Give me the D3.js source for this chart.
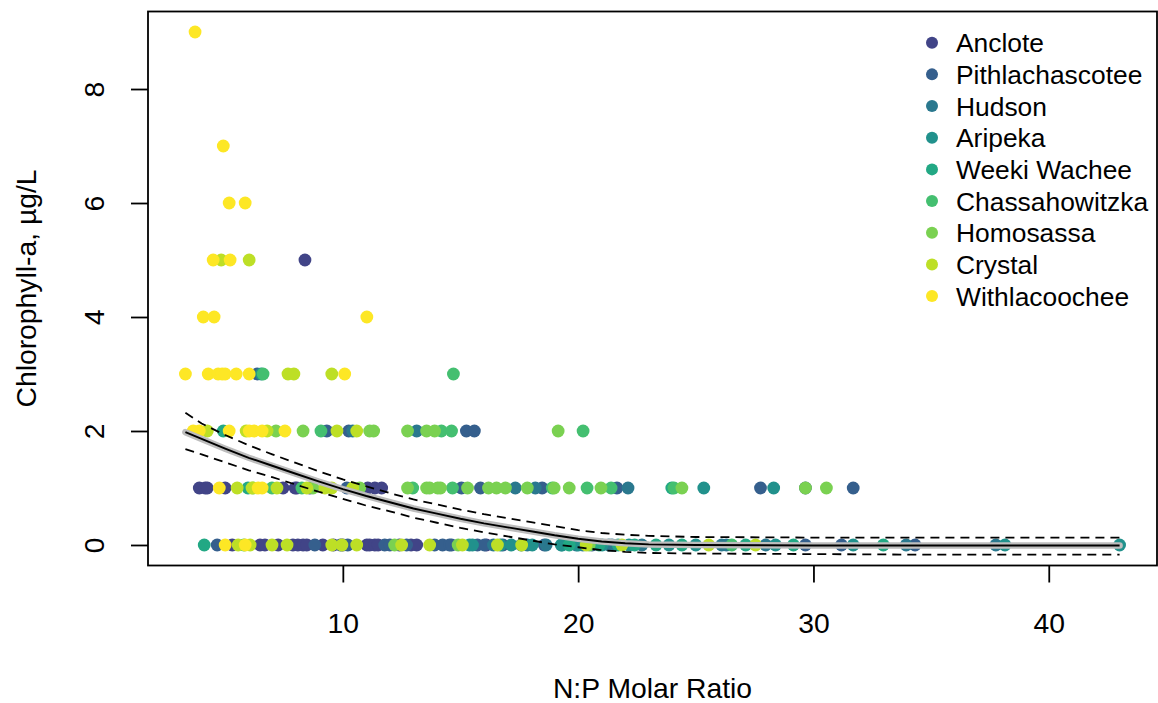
<!DOCTYPE html>
<html>
<head>
<meta charset="utf-8">
<script src="https://cdn.jsdelivr.net/npm/d3@7"></script>
<style>
  body { margin: 0; background: #fff; }
  svg { display: block; font-family: "Liberation Sans", Arial, sans-serif; }
</style>
</head>
<body>
<svg id="chart" width="1158" height="703"></svg>
<script>
// ---- Data ----
const siteNames = ["Anclote","Pithlachascotee","Hudson","Aripeka","Weeki Wachee","Chassahowitzka","Homosassa","Crystal","Withlacoochee"];
const siteColors = ["#414487","#355F8D","#2A788E","#21918C","#22A884","#44BF70","#7AD151","#BDDF26","#FDE725"];

// [N:P molar ratio, chlorophyll-a]
const anclote = [[8.39,5],
  [3.90,1],[4.15,1],[4.24,1],[5.00,1],[7.46,1],[7.97,1],[8.05,1],[8.60,1],[11.06,1],[11.36,1],[11.65,1],
  [5.30,0],[6.48,0],[6.69,0],[7.25,0],[7.88,0],[8.09,0],[8.31,0],[8.47,0],[9.15,0],[9.6,0],[10.0,0],[11.02,0],[11.14,0],[11.36,0],[11.5,0],[12.4,0],[12.9,0],[13.14,0],[16.10,0]];
const pithlachascotee = [[6.36,3],
  [9.32,2],[10.25,2],[15.25,2],[15.59,2],
  [10.17,1],[15.04,1],[15.85,1],[18.47,1],[21.65,1],[27.75,1],[29.66,1],[31.69,1],
  [4.66,0],[8.81,0],[9.9,0],[10.21,0],[11.78,0],[12.0,0],[12.71,0],[13.90,0],[14.24,0],[14.53,0],[14.62,0],[15.72,0],[16.02,0],[16.8,0],[18.56,0],[20.59,0],[29.66,0],[31.19,0],[34.32,0]];
const hudson = [[10.42,2],[13.14,2],
  [17.33,1],[18.18,1],[22.12,1],
  [16.4,0],[17.58,0],[17.84,0],[18.64,0],[19.92,0],[20.2,0],[21.31,0],[21.44,0],[22.71,0],[26.10,0],[26.3,0],[27.97,0],[33.94,0],[37.75,0]];
const aripeka = [[6.53,3],
  [25.34,1],[28.31,1],
  [15.38,0],[15.51,0],[16.7,0],[17.16,0],[18.05,0],[19.28,0],[19.32,0],[20.0,0],[21.02,0],[22.16,0],[23.86,0],[25.00,0],[28.39,0],[31.69,0],[38.14,0],[43.01,0]];
const weekiWachee = [[4.92,2],
  [5.97,1],[23.98,1],
  [4.11,0],[19.62,0],[20.89,0],[21.7,0],[22.4,0],[23.31,0],[24.41,0],[27.12,0],[29.15,0],[32.97,0]];
const chassahowitzka = [[6.61,3],[14.70,3],
  [9.07,2],[14.19,2],[14.62,2],[20.21,2],
  [6.99,1],[8.26,1],[12.97,1],[14.66,1],[18.90,1],[20.38,1],[21.40,1],[24.07,1],
  [5.8,0],[26.53,0]];
const homosassa = [[7.16,2],[8.31,2],[11.14,2],[11.31,2],[12.75,2],[13.56,2],[13.90,2],[19.15,2],
  [6.19,1],[8.73,1],[10.72,1],[12.75,1],[13.56,1],[13.69,1],[14.03,1],[14.15,1],[15.30,1],[16.19,1],[16.53,1],[16.91,1],[17.84,1],[18.98,1],[19.62,1],[20.97,1],[24.41,1],[29.66,1],[30.55,1],
  [12.20,0],[14.9,0],[20.47,0]];
const crystal = [[4.83,5],[6.02,5],
  [7.67,3],[7.92,3],[9.53,3],
  [4.24,2],[5.89,2],[6.78,2],[9.75,2],[10.59,2],
  [5.51,1],[6.14,1],[7.20,1],[8.47,1],[9.24,1],[9.53,1],[10.42,1],
  [5.55,0],[6.06,0],[6.99,0],[7.63,0],[9.53,0],[9.96,0],[10.59,0],[12.5,0],[13.69,0],[15.08,0],[16.57,0],[17.6,0],[20.34,0],[21.86,0],[25.55,0],[27.54,0]];
const withlacoochee = [[3.72,9],[4.92,7],[5.17,6],[5.85,6],[4.49,5],[5.21,5],[4.07,4],[4.53,4],[11.02,4],
  [3.31,3],[4.28,3],[4.70,3],[4.87,3],[5.00,3],[5.47,3],[6.02,3],[10.08,3],
  [3.64,2],[3.90,2],[5.17,2],[6.02,2],[6.23,2],[6.57,2],[7.54,2],
  [4.75,1],[6.40,1],[6.57,1],
  [5.00,0],[5.85,0]];
const siteData = [anclote, pithlachascotee, hudson, aripeka, weekiWachee, chassahowitzka, homosassa, crystal, withlacoochee];

// Smoothed fit with confidence limits
const fitX     = [3.31,4,5,6,7,8,9,10,11,12,13,14,15,16,17,18,19,20,21,22,23,25,30,35,43.01];
const fitY     = [1.98,1.86,1.69,1.53,1.39,1.25,1.11,0.98,0.86,0.75,0.64,0.55,0.46,0.38,0.31,0.24,0.17,0.11,0.06,0.03,0.01,0,-0.01,-0.01,-0.01];
const fitUpper = [2.32,2.13,1.93,1.75,1.59,1.44,1.29,1.15,1.03,0.91,0.80,0.71,0.62,0.54,0.47,0.40,0.33,0.26,0.21,0.18,0.16,0.14,0.13,0.13,0.13];
const fitLower = [1.68,1.59,1.45,1.31,1.19,1.06,0.93,0.81,0.69,0.59,0.48,0.39,0.30,0.22,0.15,0.08,0.01,-0.04,-0.09,-0.12,-0.14,-0.15,-0.16,-0.17,-0.17];

const xTicks = [10,20,30,40];
const yTicks = [0,2,4,6,8];
const xTitle = "N:P Molar Ratio";
const yTitle = "Chlorophyll-a, µg/L";

// ---- Layout ----
const L = 148, R = 1157, T = 11.5, B = 565.5;
const svg = d3.select("#chart");
const x = d3.scaleLinear().domain([1.72, 44.6]).range([L, R]);
const y = d3.scaleLinear().domain([-0.36, 9.36]).range([B, T]);
const tickFont = 28.3;

// points
const pts = [];
siteData.forEach((arr, i) => arr.forEach(d => pts.push({x: d[0], y: d[1], s: i})));
svg.append("g").selectAll("circle").data(pts).join("circle")
  .attr("cx", d => x(d.x)).attr("cy", d => y(d.y)).attr("r", 6.4)
  .attr("fill", d => siteColors[d.s]);

// fit lines
const idx = d3.range(fitX.length);
const line = (arr) => d3.line().x(i => x(fitX[i])).y(i => y(arr[i]))(idx);
svg.append("path").attr("d", line(fitY)).attr("fill","none").attr("stroke","#bdbdbd")
  .attr("stroke-width", 6.5).attr("stroke-linecap","round").attr("stroke-linejoin","round");
svg.append("path").attr("d", line(fitY)).attr("fill","none").attr("stroke","#000")
  .attr("stroke-width", 1.9);
[fitUpper, fitLower].forEach(a => svg.append("path").attr("d", line(a)).attr("fill","none")
  .attr("stroke","#000").attr("stroke-width",1.8).attr("stroke-dasharray","9,6"));

// box
svg.append("rect").attr("x", L).attr("y", T).attr("width", R - L).attr("height", B - T)
  .attr("fill","none").attr("stroke","#000").attr("stroke-width",1.8);

// axes
const gx = svg.append("g").attr("transform", `translate(0,${B})`)
  .call(d3.axisBottom(x).tickValues(xTicks).tickSize(17).tickSizeOuter(0).tickPadding(30).tickFormat(d3.format("d")));
gx.select(".domain").remove();
gx.selectAll("line").attr("stroke","#000").attr("stroke-width",1.8);
gx.selectAll("text").attr("font-size", tickFont).attr("fill","#000").attr("font-family",'"Liberation Sans", Arial, sans-serif');

const gy = svg.append("g").attr("transform", `translate(${L},0)`)
  .call(d3.axisLeft(y).tickValues(yTicks).tickSize(17).tickSizeOuter(0).tickFormat(d3.format("d")));
gy.select(".domain").remove();
gy.selectAll("line").attr("stroke","#000").attr("stroke-width",1.8);
gy.selectAll("text").attr("font-size", tickFont).attr("fill","#000").attr("font-family",'"Liberation Sans", Arial, sans-serif')
  .attr("x", null).attr("dy", null).attr("text-anchor","middle")
  .attr("transform","translate(-44,0) rotate(-90)");

// titles
svg.append("text").attr("x", (L + R) / 2).attr("y", 698).attr("text-anchor","middle")
  .attr("font-size", tickFont).text(xTitle);
svg.append("text").attr("transform", `translate(36,${(T + B) / 2}) rotate(-90)`).attr("text-anchor","middle")
  .attr("font-size", tickFont).text(yTitle);

// legend
const lg = svg.append("g");
siteNames.forEach((name, i) => {
  const cy = 42.7 + i * 31.67;
  lg.append("circle").attr("cx", 932).attr("cy", cy).attr("r", 6).attr("fill", siteColors[i]);
  lg.append("text").attr("x", 956).attr("y", cy).attr("dy","0.36em").attr("font-size", 26.4).text(name);
});
</script>
</body>
</html>
